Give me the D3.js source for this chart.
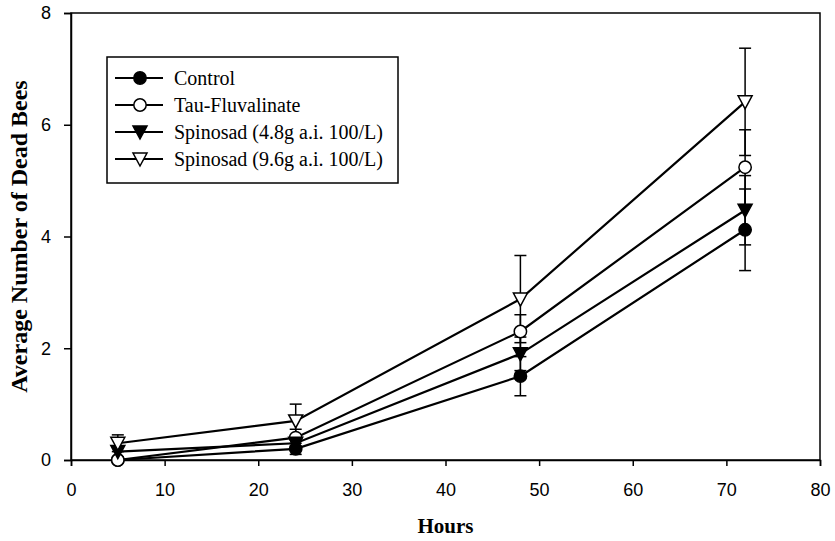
<!DOCTYPE html>
<html>
<head>
<meta charset="utf-8">
<script src="https://cdn.jsdelivr.net/npm/d3@7"></script>
<style>
  body { margin: 0; background: #fff; }
  svg { display: block; }
</style>
</head>
<body>
<div id="chart"></div>
<script>
const hours = [5, 24, 48, 72];
const seriesNames = ["Control", "Tau-Fluvalinate", "Spinosad (4.8g a.i. 100/L)", "Spinosad (9.6g a.i. 100/L)"];
const controlVals = [0, 0.2, 1.5, 4.12];
const controlErr = [0, 0.1, 0.35, 0.73];
const tauVals = [0, 0.4, 2.3, 5.24];
const tauErr = [0, 0.15, 0.3, 0.67];
const spin48Vals = [0.15, 0.3, 1.9, 4.47];
const spin48Err = [0.1, 0.1, 0.3, 0.62];
const spin96Vals = [0.3, 0.7, 2.88, 6.41];
const spin96Err = [0.15, 0.3, 0.78, 0.96];
const xTicks = [0, 10, 20, 30, 40, 50, 60, 70, 80];
const yTicks = [0, 2, 4, 6, 8];

const width = 835, height = 541;
const margin = { left: 71, right: 15, top: 13, bottom: 81 };
const innerWidth = width - margin.left - margin.right;
const innerHeight = height - margin.top - margin.bottom;

const series = [
  { name: seriesNames[0], vals: controlVals, err: controlErr, shape: "circle", fill: "#000" },
  { name: seriesNames[1], vals: tauVals, err: tauErr, shape: "circle", fill: "#fff" },
  { name: seriesNames[2], vals: spin48Vals, err: spin48Err, shape: "tri", fill: "#000" },
  { name: seriesNames[3], vals: spin96Vals, err: spin96Err, shape: "tri", fill: "#fff" }
];

const svg = d3.select("#chart").append("svg")
  .attr("width", width).attr("height", height);

const innerChart = svg.append("g")
  .attr("transform", `translate(${margin.left}, ${margin.top})`);

const xScale = d3.scaleLinear().domain([0, 80]).range([0, innerWidth]);
const yScale = d3.scaleLinear().domain([0, 8]).range([innerHeight, 0]);

// frame
innerChart.append("rect")
  .attr("width", innerWidth).attr("height", innerHeight)
  .attr("fill", "none").attr("stroke", "#000").attr("stroke-width", 1.5);

const xAxis = innerChart.append("g")
  .attr("transform", `translate(0, ${innerHeight})`)
  .call(d3.axisBottom(xScale).tickValues(xTicks).tickSize(6).tickPadding(17));
const yAxis = innerChart.append("g")
  .call(d3.axisLeft(yScale).tickValues(yTicks).tickSize(7).tickPadding(13));

[xAxis, yAxis].forEach(ax => {
  ax.select(".domain").attr("stroke-width", 1.5);
  ax.selectAll(".tick line").attr("stroke-width", 1.5);
  ax.selectAll("text")
    .attr("font-family", "Liberation Sans, Arial, sans-serif")
    .attr("font-size", 18).attr("fill", "#000");
});

const symbolPath = (shape) => shape === "circle"
  ? d3.symbol(d3.symbolCircle, 120)()
  : "M-7,-6 L7,-6 L0,7 Z";

const line = d3.line()
  .x((d, i) => xScale(hours[i]))
  .y(d => yScale(d));

// error bars
series.forEach(s => {
  const g = innerChart.append("g");
  hours.forEach((h, i) => {
    if (!s.err[i]) return;
    const x = xScale(h);
    const y1 = yScale(s.vals[i] + s.err[i]);
    const y0 = yScale(Math.max(0, s.vals[i] - s.err[i]));
    g.append("line").attr("x1", x).attr("x2", x).attr("y1", y1).attr("y2", y0)
      .attr("stroke", "#000").attr("stroke-width", 1.5);
    [y1, y0].forEach(y => g.append("line")
      .attr("x1", x - 6).attr("x2", x + 6).attr("y1", y).attr("y2", y)
      .attr("stroke", "#000").attr("stroke-width", 1.5));
  });
});

// lines and markers
series.forEach(s => {
  innerChart.append("path")
    .datum(s.vals)
    .attr("d", line)
    .attr("fill", "none").attr("stroke", "#000").attr("stroke-width", 2.2);
  innerChart.selectAll(null)
    .data(s.vals)
    .join("path")
      .attr("transform", (d, i) => `translate(${xScale(hours[i])}, ${yScale(d)})`)
      .attr("d", symbolPath(s.shape))
      .attr("fill", s.fill).attr("stroke", "#000").attr("stroke-width", 1.5);
});

// legend
const legend = svg.append("g").attr("transform", "translate(107, 57)");
legend.append("rect")
  .attr("width", 291).attr("height", 126)
  .attr("fill", "#fff").attr("stroke", "#000").attr("stroke-width", 1.5);
series.forEach((s, i) => {
  const row = legend.append("g").attr("transform", `translate(0, ${21 + i * 27})`);
  row.append("line").attr("x1", 8).attr("x2", 56)
    .attr("stroke", "#000").attr("stroke-width", 2);
  row.append("path").attr("transform", "translate(33, 0)")
    .attr("d", symbolPath(s.shape))
    .attr("fill", s.fill).attr("stroke", "#000").attr("stroke-width", 1.5);
  row.append("text").attr("x", 67).attr("y", 7)
    .attr("font-family", "Liberation Serif, Times New Roman, serif")
    .attr("font-size", 20).text(s.name);
});

// axis titles
svg.append("text")
  .attr("x", margin.left + innerWidth / 2).attr("y", 533)
  .attr("text-anchor", "middle")
  .attr("font-family", "Liberation Serif, Times New Roman, serif")
  .attr("font-weight", "bold").attr("font-size", 21)
  .text("Hours");
svg.append("text")
  .attr("transform", `translate(27, ${margin.top + innerHeight / 2}) rotate(-90)`)
  .attr("text-anchor", "middle")
  .attr("font-family", "Liberation Serif, Times New Roman, serif")
  .attr("font-weight", "bold").attr("font-size", 24)
  .text("Average Number of Dead Bees");
</script>
</body>
</html>
